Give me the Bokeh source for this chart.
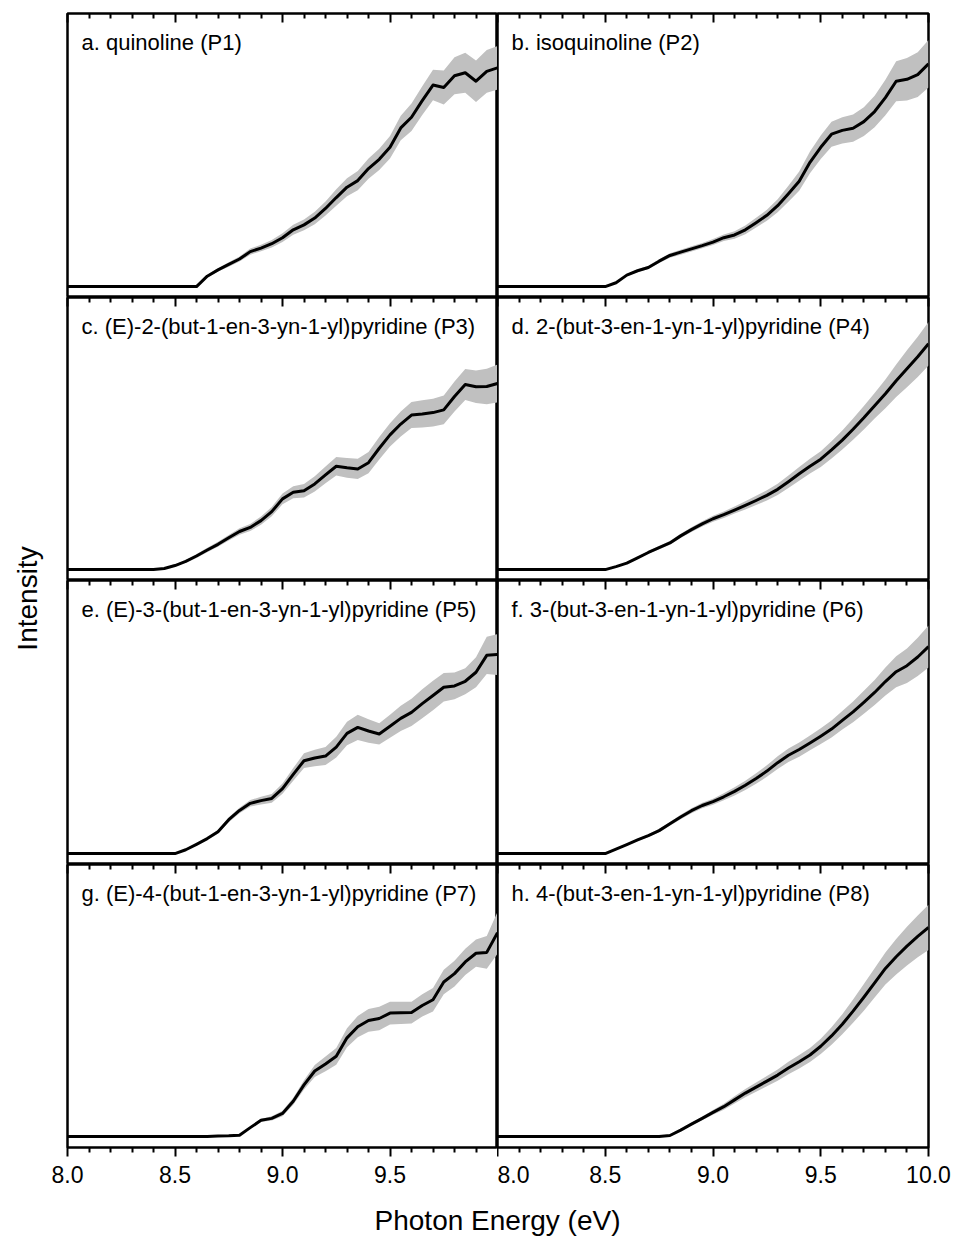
from math import pi

from bokeh.embed import file_html
from bokeh.layouts import column, row
from bokeh.models import FixedTicker, Label, LinearAxis, PrintfTickFormatter, Range1d
from bokeh.plotting import figure
from bokeh.resources import INLINE

# Photon energy grid (eV)
ENERGY = [8.00, 8.05, 8.10, 8.15, 8.20, 8.25, 8.30, 8.35, 8.40, 8.45,
          8.50, 8.55, 8.60, 8.65, 8.70, 8.75, 8.80, 8.85, 8.90, 8.95,
          9.00, 9.05, 9.10, 9.15, 9.20, 9.25, 9.30, 9.35, 9.40, 9.45,
          9.50, 9.55, 9.60, 9.65, 9.70, 9.75, 9.80, 9.85, 9.90, 9.95, 10.00]

# Photoionization intensity (arb. units) and 1-sigma uncertainty for each isomer
INT_P1 = [0, 0, 0, 0, 0, 0, 0, 0, 0, 0,
          0, 0, 0, 3.8, 6.1, 8.1, 10.1, 12.8, 14.1, 15.7,
          17.9, 20.8, 22.6, 25.1, 28.6, 32.6, 36.4, 38.8, 43.2, 46.6,
          51.0, 58.1, 62.0, 68.1, 73.8, 72.9, 77.2, 78.3, 75.2, 78.8, 80.1]
ERR_P1 = [0, 0, 0, 0, 0, 0, 0, 0, 0, 0,
          0, 0, 0, 0.5, 0.6, 0.8, 0.9, 1.1, 1.2, 1.4,
          1.6, 1.8, 2.0, 2.3, 2.6, 3.0, 3.3, 3.5, 3.7, 3.9,
          4.1, 4.5, 5.0, 5.3, 5.6, 6.2, 6.8, 7.3, 7.6, 7.8, 8.0]

INT_P2 = [0, 0, 0, 0, 0, 0, 0, 0, 0, 0,
          0, 1.4, 4.2, 5.8, 7.0, 9.3, 11.4, 12.6, 13.8, 15.0,
          16.3, 17.9, 18.9, 20.8, 23.4, 26.1, 29.6, 34.0, 38.6, 45.5,
          51.0, 55.8, 57.2, 58.0, 60.4, 64.1, 69.2, 75.2, 75.9, 77.6, 81.6]
ERR_P2 = [0, 0, 0, 0, 0, 0, 0, 0, 0, 0,
          0, 0.3, 0.4, 0.5, 0.6, 0.7, 0.8, 0.9, 1.0, 1.0,
          1.1, 1.2, 1.4, 1.6, 1.8, 2.0, 2.4, 2.9, 3.5, 4.0,
          4.3, 4.6, 4.8, 5.0, 5.3, 5.8, 6.5, 7.3, 7.8, 8.2, 8.7]

INT_P3 = [0, 0, 0, 0, 0, 0, 0, 0, 0, 0.4,
          1.5, 3.0, 5.0, 7.2, 9.3, 11.7, 14.0, 15.5, 18.0, 21.3,
          26.0, 28.4, 29.0, 31.5, 34.8, 38.0, 37.4, 37.0, 39.3, 44.6,
          49.5, 53.5, 56.8, 57.2, 57.7, 58.7, 63.6, 68.0, 67.2, 67.3, 68.4]
ERR_P3 = [0, 0, 0, 0, 0, 0, 0, 0, 0, 0.1,
          0.3, 0.5, 0.7, 0.8, 0.9, 1.0, 1.2, 1.3, 1.5, 1.7,
          2.0, 2.2, 2.5, 2.8, 3.1, 3.4, 3.6, 3.7, 3.9, 4.1,
          4.3, 4.6, 4.8, 5.0, 5.1, 5.3, 5.5, 5.7, 6.0, 6.5, 7.0]

INT_P4 = [0, 0, 0, 0, 0, 0, 0, 0, 0, 0,
          0, 1.1, 2.4, 4.3, 6.3, 8.1, 9.8, 12.4, 14.7, 16.8,
          18.7, 20.2, 21.9, 23.6, 25.4, 27.3, 29.5, 32.3, 35.2, 38.0,
          40.6, 44.0, 47.6, 51.6, 55.8, 60.2, 64.6, 69.4, 73.8, 78.2, 83.0]
ERR_P4 = [0, 0, 0, 0, 0, 0, 0, 0, 0, 0,
          0, 0.2, 0.3, 0.4, 0.5, 0.6, 0.7, 0.8, 0.9, 1.0,
          1.1, 1.2, 1.3, 1.5, 1.7, 1.9, 2.1, 2.3, 2.5, 2.7,
          2.9, 3.2, 3.5, 3.9, 4.3, 4.7, 5.3, 6.0, 6.8, 7.4, 8.0]

INT_P5 = [0, 0, 0, 0, 0, 0, 0, 0, 0, 0,
          0, 1.4, 3.4, 5.5, 8.0, 12.4, 15.8, 18.4, 19.4, 20.2,
          23.8, 29.0, 34.0, 35.0, 35.7, 39.0, 44.0, 46.2, 44.9, 43.8,
          46.6, 49.5, 51.7, 54.9, 57.9, 60.9, 61.4, 63.1, 66.4, 72.6, 72.9]
ERR_P5 = [0, 0, 0, 0, 0, 0, 0, 0, 0, 0,
          0, 0.3, 0.4, 0.5, 0.7, 0.9, 1.0, 1.2, 1.4, 1.6,
          1.9, 2.3, 2.7, 3.0, 3.3, 3.8, 4.3, 4.6, 4.3, 3.9,
          4.2, 4.6, 5.0, 5.3, 5.4, 5.2, 4.9, 4.8, 5.5, 6.8, 7.5]

INT_P6 = [0, 0, 0, 0, 0, 0, 0, 0, 0, 0,
          0, 1.6, 3.3, 5.0, 6.6, 8.4, 10.9, 13.4, 15.7, 17.6,
          19.0, 20.8, 22.8, 25.0, 27.5, 30.2, 33.3, 36.0, 38.1, 40.5,
          43.0, 45.6, 48.8, 51.9, 55.4, 59.0, 63.0, 66.6, 68.8, 72.0, 75.8]
ERR_P6 = [0, 0, 0, 0, 0, 0, 0, 0, 0, 0,
          0, 0.2, 0.3, 0.4, 0.5, 0.6, 0.7, 0.8, 0.9, 1.0,
          1.1, 1.3, 1.5, 1.7, 1.9, 2.1, 2.3, 2.5, 2.6, 2.7,
          2.9, 3.1, 3.4, 3.8, 4.2, 4.6, 5.1, 5.7, 6.3, 7.0, 7.7]

INT_P7 = [0, 0, 0, 0, 0, 0, 0, 0, 0, 0,
          0, 0, 0, 0, 0.2, 0.3, 0.5, 3.3, 6.0, 6.7,
          8.5, 13.0, 19.0, 24.1, 26.7, 29.5, 36.3, 40.4, 42.7, 43.4,
          45.4, 45.5, 45.6, 48.2, 50.3, 56.8, 59.9, 64.2, 67.4, 67.7, 74.9]
ERR_P7 = [0, 0, 0, 0, 0, 0, 0, 0, 0, 0,
          0, 0, 0, 0, 0.1, 0.1, 0.2, 0.4, 0.6, 0.8,
          1.0, 1.3, 1.7, 2.2, 2.7, 3.1, 3.5, 3.9, 4.2, 4.3,
          4.2, 4.1, 4.0, 4.1, 4.3, 4.5, 4.7, 4.8, 5.0, 6.0, 7.7]

INT_P8 = [0, 0, 0, 0, 0, 0, 0, 0, 0, 0,
          0, 0, 0, 0, 0, 0, 0.4, 2.4, 4.6, 6.7,
          8.9, 11.0, 13.5, 16.0, 18.2, 20.4, 22.6, 25.2, 27.5, 30.0,
          33.2, 37.0, 41.3, 46.1, 51.2, 56.5, 61.8, 66.1, 70.0, 73.6, 76.9]
ERR_P8 = [0, 0, 0, 0, 0, 0, 0, 0, 0, 0,
          0, 0, 0, 0, 0, 0, 0.1, 0.3, 0.5, 0.7,
          0.9, 1.1, 1.3, 1.5, 1.7, 1.9, 2.1, 2.3, 2.5, 2.6,
          2.8, 3.2, 3.7, 4.3, 4.9, 5.4, 5.9, 6.5, 7.1, 7.7, 8.3]

LABELS = [
    "a. quinoline (P1)",
    "b. isoquinoline (P2)",
    "c. (E)-2-(but-1-en-3-yn-1-yl)pyridine (P3)",
    "d. 2-(but-3-en-1-yn-1-yl)pyridine (P4)",
    "e. (E)-3-(but-1-en-3-yn-1-yl)pyridine (P5)",
    "f. 3-(but-3-en-1-yn-1-yl)pyridine (P6)",
    "g. (E)-4-(but-1-en-3-yn-1-yl)pyridine (P7)",
    "h. 4-(but-3-en-1-yn-1-yl)pyridine (P8)",
]
SERIES = [(INT_P1, ERR_P1), (INT_P2, ERR_P2), (INT_P3, ERR_P3), (INT_P4, ERR_P4),
          (INT_P5, ERR_P5), (INT_P6, ERR_P6), (INT_P7, ERR_P7), (INT_P8, ERR_P8)]

X_TICKS_LEFT = [8.0, 8.5, 9.0, 9.5]
X_TICKS_RIGHT = [8.0, 8.5, 9.0, 9.5, 10.0]
X_MINOR = [8.1, 8.2, 8.3, 8.4, 8.6, 8.7, 8.8, 8.9, 9.1, 9.2, 9.3, 9.4,
           9.6, 9.7, 9.8, 9.9]

FONT = "Liberation Sans"
BAND = "#c0c0c0"

FRAME_W = [430, 431]
FRAME_H = [284, 283, 284, 283]
TOP_PAD = 13
BOTTOM_PAD = 47
LEFT_PAD = 17
RIGHT_PAD = 29


def make_panel(k, col, r):
    vals, errs = SERIES[k]
    bl = LEFT_PAD if col == 0 else 0
    br = 0 if col == 0 else RIGHT_PAD
    bt = TOP_PAD if r == 0 else 0
    bb = BOTTOM_PAD if r == 3 else 0
    p = figure(width=bl + FRAME_W[col] + br, height=bt + FRAME_H[r] + bb,
               x_range=Range1d(8.0, 10.0), y_range=Range1d(-4, 100),
               x_axis_location=None, y_axis_location=None,
               toolbar_location=None, output_backend="svg",
               min_border=0, min_border_left=bl, min_border_right=br,
               min_border_top=bt, min_border_bottom=bb)
    p.grid.visible = False
    p.outline_line_color = "black"
    p.outline_line_width = 2.5
    p.background_fill_color = "white"
    p.border_fill_color = "white"

    majors = X_TICKS_LEFT if col == 0 else X_TICKS_RIGHT

    # inward ticks along the top edge of every panel (no labels)
    top = LinearAxis(ticker=FixedTicker(ticks=majors, minor_ticks=X_MINOR),
                     major_tick_in=9, major_tick_out=0,
                     minor_tick_in=5, minor_tick_out=0,
                     major_tick_line_width=2, minor_tick_line_width=2,
                     axis_line_color=None,
                     major_label_text_color=None,
                     major_label_text_font_size="0px", major_label_standoff=0)
    p.add_layout(top, "above")

    if r == 3:
        bottom = LinearAxis(ticker=FixedTicker(ticks=majors, minor_ticks=X_MINOR),
                            formatter=PrintfTickFormatter(format="%.1f"),
                            major_tick_in=0, major_tick_out=9,
                            minor_tick_in=0, minor_tick_out=5,
                            major_tick_line_width=2, minor_tick_line_width=2,
                            axis_line_color=None,
                            major_label_text_font=FONT,
                            major_label_text_font_size="23px",
                            major_label_text_color="black",
                            major_label_standoff=9)
        p.add_layout(bottom, "below")

    lo = [v - e for v, e in zip(vals, errs)]
    hi = [v + e for v, e in zip(vals, errs)]
    p.varea(x=ENERGY, y1=lo, y2=hi, fill_color=BAND, fill_alpha=1.0)
    p.line(ENERGY, vals, line_color="black", line_width=3, line_join="round")

    p.add_layout(Label(x=8.0, y=100, x_offset=14, y_offset=-29, text=LABELS[k],
                       text_font=FONT, text_font_size="22px", text_color="black",
                       text_align="left", text_baseline="middle"))
    return p


panels = [[make_panel(2 * r + c, c, r) for c in range(2)] for r in range(4)]
grid_height = sum(FRAME_H) + TOP_PAD + BOTTOM_PAD

# Shared y-axis title strip
ystrip = figure(width=50, height=grid_height, x_range=Range1d(0, 50),
                y_range=Range1d(0, grid_height), x_axis_location=None,
                y_axis_location=None, toolbar_location=None,
                output_backend="svg", min_border=0)
ystrip.grid.visible = False
ystrip.outline_line_color = None
ystrip.add_layout(Label(x=27, y=grid_height - 598, text="Intensity", angle=pi / 2,
                        text_font=FONT, text_font_size="28px", text_color="black",
                        text_align="center", text_baseline="middle"))

# Shared x-axis title strip
xstrip_h = 1238 - grid_height
xstrip = figure(width=957, height=xstrip_h, x_range=Range1d(0, 957),
                y_range=Range1d(0, xstrip_h), x_axis_location=None,
                y_axis_location=None, toolbar_location=None,
                output_backend="svg", min_border=0)
xstrip.grid.visible = False
xstrip.outline_line_color = None
xstrip.add_layout(Label(x=497, y=xstrip_h - (1220 - grid_height), text="Photon Energy (eV)",
                        text_font=FONT, text_font_size="28px", text_color="black",
                        text_align="center", text_baseline="middle"))

grid = column(*[row(*pr) for pr in panels])
layout = column(row(ystrip, grid), xstrip)

open("out.html", "w").write(file_html(layout, INLINE))
